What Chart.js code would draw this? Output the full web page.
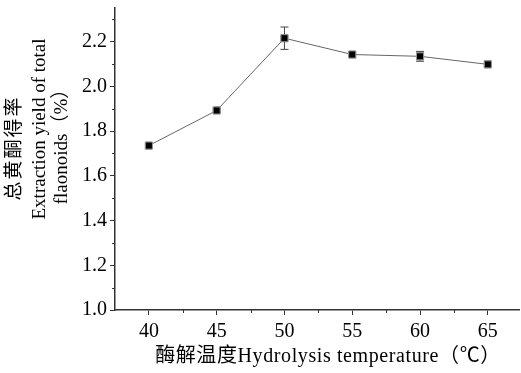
<!DOCTYPE html>
<html>
  <head>
    <title>Hydrolysis temperature</title>
    <script src="https://cdn.jsdelivr.net/npm/chart.js@4.4.0/dist/chart.umd.min.js"></script>
    <style>
      html, body { margin: 0; padding: 0; background: #fff; }
      #wrap { width: 521px; height: 373px; }
    </style>
  </head>
  <body>
    <div id="wrap"><canvas id="canvas" width="521" height="373"></canvas></div>
    <script>
      // temperature (°C) vs extraction yield (%) with error bars
      var temps = [40, 45, 50, 55, 60, 65];
      var yields = [1.735, 1.892, 2.215, 2.142, 2.134, 2.098];
      var errs = [0.005, 0.005, 0.05, 0.006, 0.022, 0.006];
      var xTicks = [40, 45, 50, 55, 60, 65];
      var yTicks = [1.0, 1.2, 1.4, 1.6, 1.8, 2.0, 2.2];
      var xMinor = [42.5, 47.5, 52.5, 57.5, 62.5, 67.5];
      var yMinor = [1.1, 1.3, 1.5, 1.7, 1.9, 2.1, 2.3];
      var xTitle = '酶解温度Hydrolysis temperature（℃）';
      var yTitle = ['总黄酮得率', 'Extraction yield of total', 'flaonoids（%）'];

      var serif = "'Liberation Serif', 'Times New Roman', 'Noto Sans CJK SC', serif";
      var axisColor = '#333';

      // error bars, minor ticks and axis titles
      var extras = {
        id: 'extras',
        afterDatasetsDraw: function (chart) {
          var ctx = chart.ctx, xs = chart.scales.x, ys = chart.scales.y;
          ctx.save();
          ctx.strokeStyle = '#444';
          ctx.lineWidth = 1;
          temps.forEach(function (t, i) {
            if (errs[i] < 0.01) return;
            var px = xs.getPixelForValue(t);
            var top = ys.getPixelForValue(yields[i] + errs[i]);
            var bot = ys.getPixelForValue(yields[i] - errs[i]);
            ctx.beginPath();
            ctx.moveTo(px, top); ctx.lineTo(px, bot);
            ctx.moveTo(px - 4, top); ctx.lineTo(px + 4, top);
            ctx.moveTo(px - 4, bot); ctx.lineTo(px + 4, bot);
            ctx.stroke();
          });
          // markers on top of the bars
          chart.getDatasetMeta(0).data.forEach(function (pt) { pt.draw(ctx, chart.chartArea); });

          ctx.strokeStyle = axisColor;
          ctx.beginPath();
          xMinor.forEach(function (v) {
            var px = Math.round(xs.getPixelForValue(v)) + 0.5;
            if (px > chart.chartArea.right + 1) return;
            ctx.moveTo(px, ys.bottom); ctx.lineTo(px, ys.bottom + 3);
          });
          yMinor.forEach(function (v) {
            var py = Math.round(ys.getPixelForValue(v)) + 0.5;
            ctx.moveTo(xs.left, py); ctx.lineTo(xs.left - 3, py);
          });
          ctx.stroke();

          // titles
          ctx.fillStyle = '#000';
          ctx.textAlign = 'center';
          ctx.textBaseline = 'middle';
          ctx.font = '20px ' + serif;
          ctx.letterSpacing = '0.6px';
          ctx.fillText(xTitle, 328, 357);

          var yPos = [[15, 148, '2px'], [40, 129, '0px'], [62, 142, '0px']];
          ctx.font = '19px ' + serif;
          yTitle.forEach(function (line, i) {
            ctx.save();
            ctx.letterSpacing = yPos[i][2];
            ctx.translate(yPos[i][0], yPos[i][1]);
            ctx.rotate(-Math.PI / 2);
            ctx.fillText(line, 0, 0);
            ctx.restore();
          });
          ctx.restore();
        }
      };

      function noEdgePadding(s) {
        s.paddingTop = 0; s.paddingBottom = 0; s.paddingLeft = 0; s.paddingRight = 0;
      }

      var ctx = document.getElementById('canvas').getContext('2d');
      new Chart(ctx, {
        type: 'line',
        data: {
          datasets: [{
            data: temps.map(function (t, i) { return { x: t, y: yields[i] }; }),
            borderColor: '#666',
            borderWidth: 1,
            pointStyle: 'rect',
            pointRadius: 5,
            pointBackgroundColor: '#000',
            pointBorderColor: '#999',
            pointBorderWidth: 1,
            tension: 0
          }]
        },
        options: {
          responsive: false,
          animation: false,
          events: [],
          layout: { autoPadding: false, padding: { top: 8, right: 2, left: 0, bottom: 0 } },
          plugins: { legend: { display: false }, tooltip: { enabled: false } },
          scales: {
            x: {
              type: 'linear',
              min: 37.5,
              max: 67.3,
              afterBuildTicks: function (s) { s.ticks = xTicks.map(function (v) { return { value: v }; }); },
              afterFit: function (s) { s.height = 63; noEdgePadding(s); },
              border: { display: true, color: axisColor, width: 1.5 },
              grid: { drawOnChartArea: false, color: axisColor, tickLength: 5, tickWidth: 1 },
              ticks: { color: '#000', font: { family: serif, size: 20 }, padding: 5 }
            },
            y: {
              min: 1.0,
              max: 2.35,
              afterBuildTicks: function (s) { s.ticks = yTicks.map(function (v) { return { value: v }; }); },
              afterFit: function (s) { s.width = 115; noEdgePadding(s); },
              border: { display: true, color: axisColor, width: 1.5 },
              grid: { drawOnChartArea: false, color: axisColor, tickLength: 5, tickWidth: 1 },
              ticks: {
                color: '#000',
                font: { family: serif, size: 20 },
                padding: 3,
                callback: function (v) { return v.toFixed(1); }
              }
            }
          }
        },
        plugins: [extras]
      });
    </script>
  </body>
</html>
